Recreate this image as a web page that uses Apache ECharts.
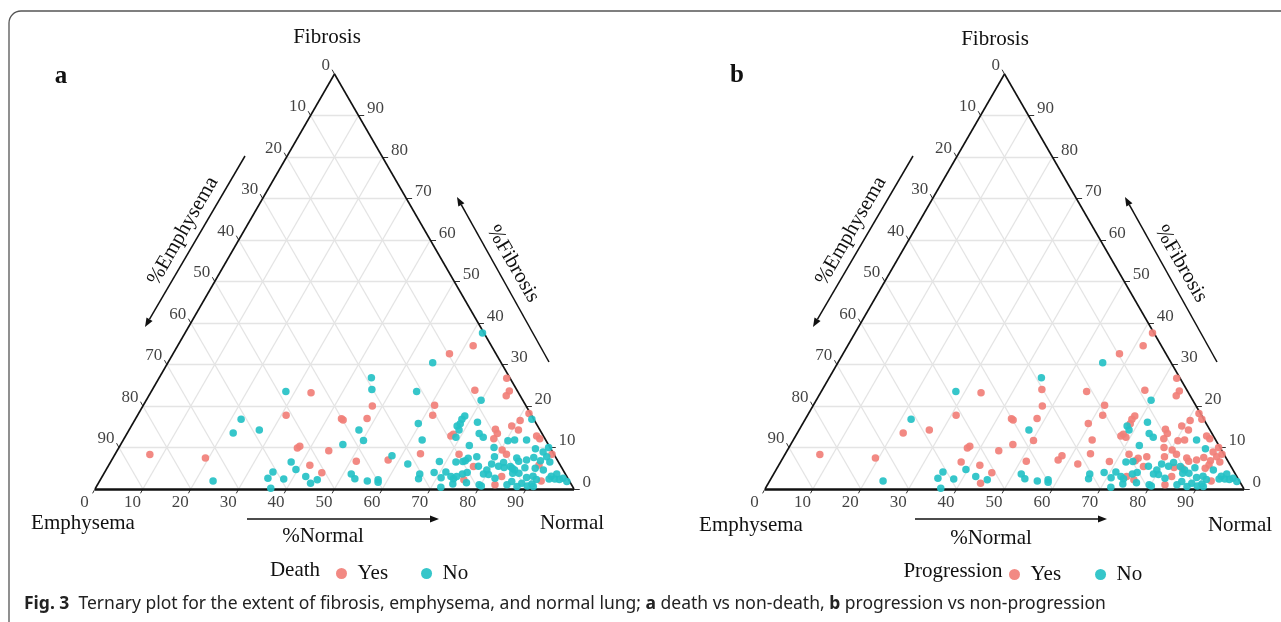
<!DOCTYPE html>
<html>
<head>
<meta charset="utf-8">
</head>
<body style="margin: 0; background: #fff">
<div id="container" style="width: 1281px; height: 622px"></div>
<script type="text/javascript" src="https://cdn.jsdelivr.net/npm/echarts@6/dist/echarts.min.js"></script>
<script type="text/javascript">
    // ternary composition of each patient: %normal and %fibrosis (emphysema = rest)
    var normalPct = [
        7.3, 19.3, 22.1, 22.1, 23.7, 44.3, 45.8, 28.1, 33.5, 47.9,
        31.0, 43.0, 43.5, 48.3, 27.2, 48.0, 50.2, 37.6, 37.3, 46.4,
        44.2, 58.0, 57.7, 51.2, 37.7, 62.3, 42.0, 35.1, 39.6, 45.4,
        34.8, 38.2, 42.5, 45.3, 44.3, 51.7, 53.0, 55.9, 58.0, 58.3,
        36.6, 62.1, 61.7, 57.7, 55.3, 55.4, 67.4, 69.9, 60.8, 61.6,
        59.6, 68.4, 68.2, 68.4, 68.0, 68.9, 68.2, 67.9, 69.1, 71.8,
        73.5, 74.8, 76.4, 77.3, 77.2, 62.4, 72.9, 78.3, 63.7, 71.8,
        75.8, 79.5, 74.2, 73.9, 73.5, 68.6, 72.1, 76.3, 77.3, 79.8,
        68.8, 71.2, 66.0, 66.3, 74.9, 79.5, 79.3, 80.4, 70.9, 72.8,
        73.6, 74.0, 75.9, 74.1, 79.7, 72.0, 82.2, 83.0, 72.6, 74.7,
        74.6, 81.5, 82.8, 80.5, 79.4, 81.3, 85.8, 86.8, 80.4, 81.7,
        84.2, 80.3, 81.7, 87.1, 89.1, 89.7, 84.3, 85.1, 87.8, 89.6,
        90.4, 91.7, 81.5, 82.8, 84.0, 85.3, 89.8, 87.2, 89.4, 91.3,
        85.3, 86.6, 83.4, 88.7, 89.9, 91.0, 92.2, 93.7, 94.8, 94.6,
        96.4, 85.5, 86.1, 87.8, 88.4, 89.9, 91.2, 97.6, 82.1, 90.6,
        93.6, 95.8, 76.8, 80.3, 75.7, 84.6, 86.6, 91.2
    ];
    var fibrosisPct = [
        8.3, 7.5, 16.8, 13.5, 1.9, 26.8, 24.0, 23.5, 23.2, 20.0,
        17.8, 16.9, 16.6, 17.0, 14.2, 14.2, 11.7, 10.3, 9.9, 10.7,
        9.2, 8.0, 7.0, 6.7, 6.5, 6.0, 5.7, 4.1, 4.7, 3.9,
        2.6, 2.4, 3.0, 2.2, 1.4, 3.6, 2.5, 1.9, 2.2, 1.6,
        0.2, 37.6, 34.5, 32.6, 30.4, 23.5, 23.8, 21.4, 20.2, 17.8,
        15.8, 17.6, 16.8, 15.7, 15.2, 14.2, 13.2, 12.8, 12.5, 16.1,
        13.4, 12.5, 14.4, 13.4, 12.1, 11.8, 10.5, 10.0, 8.5, 8.4,
        7.8, 7.8, 7.4, 6.8, 6.6, 6.6, 6.5, 5.4, 5.5, 6.0,
        4.0, 4.1, 3.6, 2.5, 3.6, 4.6, 3.6, 3.5, 2.7, 3.0,
        2.5, 3.0, 2.2, 1.2, 1.0, 0.4, 2.6, 1.0, 26.7, 23.6,
        22.5, 18.2, 16.8, 16.5, 15.2, 14.2, 12.8, 12.1, 11.6, 11.8,
        11.8, 9.4, 8.4, 9.7, 8.9, 10.0, 7.5, 6.7, 7.6, 6.8,
        7.8, 6.5, 5.5, 5.2, 5.4, 4.6, 5.8, 5.1, 5.0, 4.6,
        3.8, 3.8, 3.0, 2.8, 3.1, 2.3, 1.9, 3.1, 2.4, 3.6,
        2.6, 1.0, 1.8, 0.6, 1.4, 0.7, 0.6, 1.8, 6.4, 1.2,
        2.4, 2.3, 1.5, 0.7, 4.0, 5.0, 7.0, 8.4
    ];
    // 1 = Yes, 0 = No
    var death = [
        1, 1, 0, 0, 0, 0, 0, 0, 1, 1,
        1, 1, 1, 1, 0, 0, 0, 1, 1, 0,
        1, 0, 1, 1, 0, 0, 1, 0, 0, 1,
        0, 0, 0, 0, 0, 0, 0, 0, 0, 0,
        0, 0, 1, 1, 0, 0, 1, 0, 1, 1,
        0, 0, 0, 0, 0, 0, 1, 1, 0, 0,
        0, 0, 1, 1, 1, 0, 0, 0, 1, 1,
        0, 0, 0, 0, 0, 0, 0, 1, 0, 0,
        0, 0, 0, 0, 0, 0, 0, 0, 0, 0,
        0, 0, 1, 0, 0, 0, 0, 1, 1, 1,
        1, 1, 0, 1, 1, 1, 1, 1, 0, 0,
        0, 1, 1, 0, 0, 0, 0, 0, 0, 0,
        0, 0, 0, 0, 0, 0, 1, 0, 0, 0,
        0, 0, 1, 0, 0, 0, 1, 0, 0, 0,
        0, 0, 0, 0, 0, 0, 0, 0, 0, 0,
        0, 0, 0, 0, 0, 0, 0, 1
    ];
    var progression = [
        1, 1, 0, 1, 0, 0, 1, 0, 1, 1,
        1, 1, 1, 1, 1, 0, 1, 1, 1, 1,
        1, 1, 1, 1, 1, 1, 1, 0, 0, 1,
        0, 0, 0, 0, 1, 0, 0, 0, 0, 0,
        0, 1, 1, 1, 0, 1, 1, 0, 1, 1,
        1, 1, 1, 1, 0, 0, 1, 1, 1, 0,
        0, 0, 1, 1, 1, 1, 0, 1, 1, 1,
        1, 1, 1, 1, 0, 1, 0, 1, 0, 0,
        0, 0, 0, 0, 0, 0, 0, 0, 0, 0,
        0, 1, 1, 0, 0, 0, 0, 1, 1, 1,
        1, 1, 1, 1, 1, 1, 1, 1, 1, 1,
        0, 1, 1, 0, 1, 1, 1, 1, 1, 1,
        1, 1, 0, 1, 0, 0, 1, 0, 1, 0,
        0, 0, 1, 0, 0, 0, 1, 0, 0, 0,
        0, 0, 0, 0, 0, 0, 0, 0, 0, 0,
        0, 0, 0, 0, 0, 1, 1, 1
    ];
    var tickValues = [0, 10, 20, 30, 40, 50, 60, 70, 80, 90];
    var gridValues = [10, 20, 30, 40, 50, 60, 70, 80, 90];

    var SQ = Math.sqrt(3) / 2;
    var SERIF = '"Liberation Serif", "Times New Roman", serif';
    var RED = '#F17F78';
    var CYAN = '#25C1C5';

    // normal/fibrosis -> cartesian position inside an equilateral triangle of side 100
    function tern(n, f) {
        return [n + f / 2, f * SQ];
    }

    function linesSeries(gi, data, color, width, z) {
        return {
            type: 'lines', coordinateSystem: 'cartesian2d', xAxisIndex: gi, yAxisIndex: gi,
            data: data, silent: true, clip: false, z: z,
            lineStyle: {color: color, width: width, opacity: 1, curveness: 0}
        };
    }

    function labelSeries(gi, data, align, offset) {
        return {
            type: 'scatter', xAxisIndex: gi, yAxisIndex: gi, data: data,
            symbolSize: 1, clip: false, silent: true, z: 3,
            itemStyle: {color: 'rgba(0,0,0,0)'},
            label: {
                show: true, position: [0, 0], align: align, verticalAlign: 'middle', offset: offset,
                formatter: function (p) { return p.value[2]; },
                fontFamily: SERIF, fontSize: 17, color: '#111'
            }
        };
    }

    function pointSeries(gi, flags, want, name, color) {
        var data = [];
        for (var i = 0; i < normalPct.length; i++) {
            if (flags[i] === want) data.push(tern(normalPct[i], fibrosisPct[i]));
        }
        return {
            name: name, type: 'scatter', xAxisIndex: gi, yAxisIndex: gi, data: data,
            symbolSize: 7.5, z: 5, itemStyle: {color: color, opacity: 0.92}
        };
    }

    function panelSeries(gi, flags) {
        var grid = [], ticks = [], bottom = [], right = [], left = [];
        gridValues.forEach(function (v) {
            grid.push({coords: [tern(0, v), tern(100 - v, v)]});
            grid.push({coords: [tern(v, 0), tern(v, 100 - v)]});
            grid.push({coords: [tern(0, 100 - v), tern(100 - v, 0)]});
        });
        tickValues.forEach(function (v) {
            var b = tern(v, 0), r = tern(100 - v, v), l = tern(0, 100 - v);
            ticks.push({coords: [b, [b[0] - 0.5, b[1] - 0.9]]});
            ticks.push({coords: [r, [r[0] + 1.2, r[1]]]});
            ticks.push({coords: [l, [l[0] - 0.5, l[1] + 0.9]]});
            bottom.push(b.concat(v));
            right.push(r.concat(v));
            left.push(l.concat(v));
        });
        var sides = [
            {coords: [tern(0, 0), tern(0, 100)]},
            {coords: [tern(100, 0), tern(0, 100)]}
        ];
        var base = [{coords: [tern(0, 0), tern(100, 0)]}];
        return [
            linesSeries(gi, grid, '#e4e4e4', 1.3, 1),
            linesSeries(gi, ticks, '#333', 1, 2),
            linesSeries(gi, sides, '#111', 1.6, 2),
            linesSeries(gi, base, '#111', 2.6, 2),
            labelSeries(gi, bottom, 'center', [-10, 14]),
            labelSeries(gi, right, 'left', [9, -6]),
            labelSeries(gi, left, 'right', [-4, -8]),
            pointSeries(gi, flags, 1, 'Yes', RED),
            pointSeries(gi, flags, 0, 'No', CYAN)
        ];
    }

    function txt(x, y, s, size, rot, bold) {
        return {
            type: 'text', x: x, y: y, rotation: rot || 0, silent: true,
            style: {
                text: s, fontFamily: SERIF, fontSize: size, fontWeight: bold ? 'bold' : 'normal',
                fill: '#111', align: 'center', verticalAlign: 'middle'
            }
        };
    }

    function arrow(x1, y1, x2, y2) {
        var a = Math.atan2(y2 - y1, x2 - x1), L = 9, W = 3.5;
        var bx = x2 - L * Math.cos(a), by = y2 - L * Math.sin(a);
        return [
            {type: 'line', silent: true, shape: {x1: x1, y1: y1, x2: bx, y2: by}, style: {stroke: '#111', lineWidth: 1.5}},
            {type: 'polygon', silent: true, shape: {points: [[x2, y2],
                [bx + W * Math.sin(a), by - W * Math.cos(a)], [bx - W * Math.sin(a), by + W * Math.cos(a)]]},
                style: {fill: '#111'}}
        ];
    }

    function panelGraphics(dx, dy) {
        return [
            txt(327 + dx, 37 + dy, 'Fibrosis', 21),
            txt(83 + dx, 523 + dy, 'Emphysema', 21),
            txt(572 + dx, 523 + dy, 'Normal', 21),
            txt(323 + dx, 536 + dy, '%Normal', 21),
            txt(183 + dx, 231, '%Emphysema', 21, Math.PI / 3),
            txt(513 + dx, 264, '%Fibrosis', 21, -Math.PI / 3)
        ].concat(
            arrow(245 + dx, 156, 145 + dx, 327),
            arrow(549 + dx, 362, 457 + dx, 197),
            arrow(247 + dx, 519, 439 + dx, 519)
        );
    }

    var graphics = [
        {type: 'rect', silent: true, shape: {x: 9, y: 11, width: 1320, height: 700, r: 12},
            style: {fill: 'none', stroke: '#555', lineWidth: 1.3}},
        txt(61, 77, 'a', 25, 0, true),
        txt(737, 76, 'b', 25, 0, true),
        txt(295, 570, 'Death', 21),
        txt(953, 571, 'Progression', 21),
        {
            type: 'text', x: 24, y: 604, silent: true,
            style: {
                text: '{b|Fig. 3}  Ternary plot for the extent of fibrosis, emphysema, and normal lung; {b|a} death vs non-death, {b|b} progression vs non-progression',
                fontFamily: '"Noto Sans", "Open Sans", sans-serif', fontSize: 17.5, fill: '#222',
                verticalAlign: 'middle',
                rich: {b: {fontWeight: 'bold', fontFamily: '"Noto Sans", sans-serif', fontSize: 17.5, fill: '#222'}}
            }
        }
    ].concat(panelGraphics(0, 0), panelGraphics(668, 2));

    function legendAt(left, top, gap) {
        return {
            left: left, top: top, data: ['Yes', 'No'], icon: 'circle',
            itemWidth: 22, itemHeight: 11, itemGap: gap, selectedMode: false,
            textStyle: {fontFamily: SERIF, fontSize: 21, color: '#111'}
        };
    }

    var option = {
        backgroundColor: '#fff',
        animation: false,
        grid: [
            {left: 95, top: 74, width: 479, height: 415},
            {left: 765, top: 74, width: 479, height: 415}
        ],
        xAxis: [
            {gridIndex: 0, type: 'value', min: 0, max: 100, show: false},
            {gridIndex: 1, type: 'value', min: 0, max: 100, show: false}
        ],
        yAxis: [
            {gridIndex: 0, type: 'value', min: 0, max: 100 * SQ, show: false},
            {gridIndex: 1, type: 'value', min: 0, max: 100 * SQ, show: false}
        ],
        legend: [legendAt(331, 558, 33), legendAt(1004, 559, 34)],
        graphic: graphics,
        series: panelSeries(0, death).concat(panelSeries(1, progression))
    };

    var myChart = echarts.init(document.getElementById('container'));
    myChart.setOption(option);
</script>
</body>
</html>
